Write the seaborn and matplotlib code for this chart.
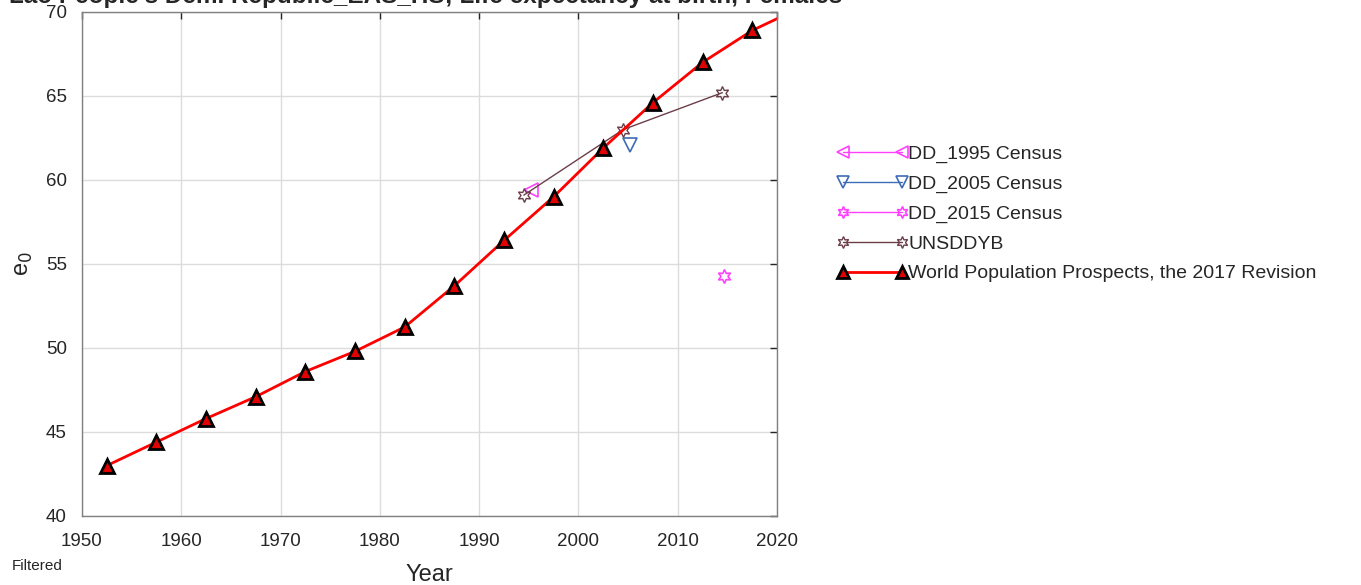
import matplotlib
matplotlib.use("Agg")
import matplotlib.pyplot as plt
import seaborn as sns
import pandas as pd

# ---- data ----
wpp_years = [1952.5, 1957.5, 1962.5, 1967.5, 1972.5, 1977.5, 1982.5, 1987.5,
             1992.5, 1997.5, 2002.5, 2007.5, 2012.5, 2017.5, 2022.5]
wpp_e0 = [43.0, 44.4, 45.8, 47.1, 48.6, 49.8, 51.25, 53.7,
          56.4, 59.0, 61.9, 64.6, 67.0, 68.9, 70.3]

unsd_years = [1994.5, 2004.5, 2014.5]
unsd_e0 = [59.1, 63.0, 65.2]

dd1995_years = [1995.2]
dd1995_e0 = [59.4]

dd2005_years = [2005.2]
dd2005_e0 = [62.1]

dd2015_years = [2014.7]
dd2015_e0 = [54.3]

xticks = [1950, 1960, 1970, 1980, 1990, 2000, 2010, 2020]
yticks = [40, 45, 50, 55, 60, 65, 70]

title = "Lao People's Dem. Republic_EAS_HS; Life expectancy at birth, Females"

sns.set_style("white")
plt.rcParams['font.family'] = ['Liberation Sans', 'DejaVu Sans']

fig = plt.figure(figsize=(13.61, 5.85), dpi=100)
ax = fig.add_axes([82/1361, 1 - 516/585, (777-82)/1361, (516-12)/585])

hex_marker = (6, 1, 0)

sns.lineplot(x=dd1995_years, y=dd1995_e0, ax=ax, color='#ff40ff', marker='<',
             markersize=10, markerfacecolor='none', markeredgecolor='#ff40ff',
             markeredgewidth=1.2, linewidth=1, label='DD_1995 Census')
sns.lineplot(x=dd2005_years, y=dd2005_e0, ax=ax, color='#3d6bb5', marker='v',
             markersize=10, markerfacecolor='none', markeredgecolor='#3d6bb5',
             markeredgewidth=1.2, linewidth=1, label='DD_2005 Census')
sns.lineplot(x=dd2015_years, y=dd2015_e0, ax=ax, color='#ff40ff', marker=hex_marker,
             markersize=10, markerfacecolor='none', markeredgecolor='#ff40ff',
             markeredgewidth=1.2, linewidth=1, label='DD_2015 Census')
sns.lineplot(x=unsd_years, y=unsd_e0, ax=ax, color='#6b3f4a', marker=hex_marker,
             markersize=10, markerfacecolor='none', markeredgecolor='#6b3f4a',
             markeredgewidth=1.0, linewidth=1, label='UNSDDYB')
sns.lineplot(x=wpp_years, y=wpp_e0, ax=ax, color='#ff0000', marker='^',
             markersize=10, markerfacecolor='#e00000', markeredgecolor='black',
             markeredgewidth=2, linewidth=2, label='World Population Prospects, the 2017 Revision')

ax.set_xlim(1950, 2020)
ax.set_ylim(40, 70)
ax.set_xticks(xticks)
ax.set_yticks(yticks)
ax.tick_params(direction='in', top=True, right=True, labelsize=13.5, colors='#262626',
               length=5, width=1)
ax.tick_params(axis='x', pad=12)
ax.tick_params(axis='y', pad=11)
ax.grid(True, color='#dcdcdc', linewidth=1)
for s in ax.spines.values():
    s.set_color('#808080')
    s.set_linewidth(1)

ax.set_xlabel('Year', fontsize=17, color='#262626', labelpad=10)
ax.set_ylabel('e$_0$', fontsize=17, color='#262626', labelpad=8)

fig.text(0.313, 1.006, title, ha='center', va='center', fontsize=17.5, fontweight='bold',
         color='#262626')
fig.text(12/1361, 1 - 566/585, 'Filtered', fontsize=11, color='#262626', va='center')

leg = ax.legend(loc='center left', bbox_to_anchor=(820/1361, 1 - 214/585),
                bbox_transform=fig.transFigure, frameon=False, fontsize=14,
                numpoints=2, markerscale=0.85, handlelength=3.6, handletextpad=0.05,
                labelspacing=0.62)

fig.savefig('out.png', dpi=100)
